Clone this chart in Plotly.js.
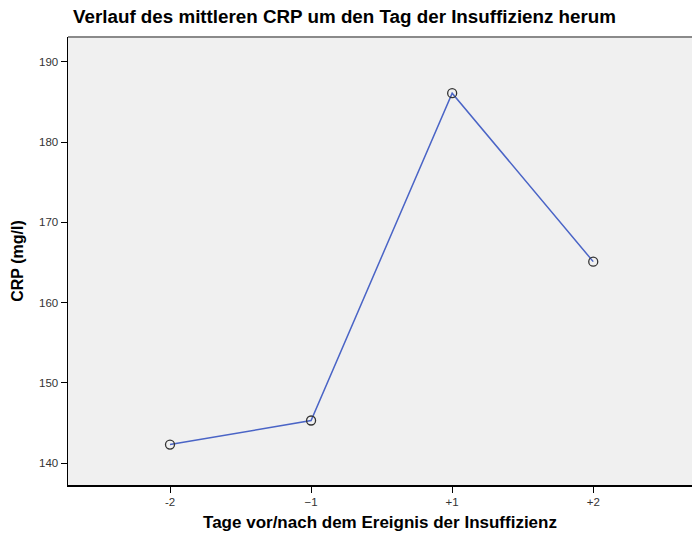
<!DOCTYPE html>
<html>
<head>
<meta charset="utf-8">
<script src="https://cdn.plot.ly/plotly-3.0.1.min.js"></script>
<style>html,body{margin:0;padding:0;background:#fff;}#chart{width:692px;height:537px;}</style>
</head>
<body>
<div id="chart"></div>
<script>
const tickLabels = ["-2", "\u22121", "+1", "+2"];
const dayPositions = [0, 1, 2, 3];
const meanCRP = [142.3, 145.3, 186.1, 165.1];
const yTicks = [140, 150, 160, 170, 180, 190];

const trace = {
  x: dayPositions,
  y: meanCRP,
  type: "scatter",
  mode: "lines+markers",
  line: {color: "#4a64c6", width: 1.5},
  marker: {symbol: "circle-open", size: 9, color: "#333333", line: {width: 1.3, color: "#333333"}},
  cliponaxis: false,
  hoverinfo: "none"
};

const layout = {
  width: 692,
  height: 537,
  margin: {l: 68, r: 0, t: 37, b: 52},
  paper_bgcolor: "#ffffff",
  plot_bgcolor: "#f0f0f0",
  showlegend: false,
  font: {family: "Liberation Sans, Arial, sans-serif", color: "#222"},
  title: {
    text: "<b>Verlauf des mittleren CRP um den Tag der Insuffizienz herum</b>",
    font: {size: 18.8, color: "#000", family: "Liberation Sans, Arial, sans-serif"},
    x: 73 / 692, xanchor: "left", xref: "container",
    y: 1 - 16 / 537, yanchor: "middle", yref: "container"
  },
  xaxis: {
    range: [-0.723, 3.70],
    tickvals: dayPositions,
    ticktext: tickLabels,
    ticks: "outside", ticklen: 6, tickwidth: 1, tickcolor: "#000",
    showline: true, linecolor: "#000", linewidth: 1.5,
    showgrid: false, zeroline: false,
    tickfont: {size: 11.5, color: "#333"},
    title: {text: "<b>Tage vor/nach dem Ereignis der Insuffizienz</b>", font: {size: 17, color: "#000"}, standoff: 9}
  },
  yaxis: {
    range: [137.26, 193.1],
    tickvals: yTicks,
    ticks: "outside", ticklen: 6, tickwidth: 1, tickcolor: "#000",
    showline: true, linecolor: "#000", linewidth: 1.5,
    showgrid: false, zeroline: false,
    tickfont: {size: 11.5, color: "#333"},
    title: {text: "<b>CRP (mg/l)</b>", font: {size: 16, color: "#000"}, standoff: 11}
  },
  shapes: [{
    type: "line", xref: "paper", yref: "paper",
    x0: 0, x1: 1, y0: 1, y1: 1,
    line: {color: "#8a8a8a", width: 2}
  }]
};

Plotly.newPlot("chart", [trace], layout, {staticPlot: true, displayModeBar: false});
</script>
</body>
</html>
